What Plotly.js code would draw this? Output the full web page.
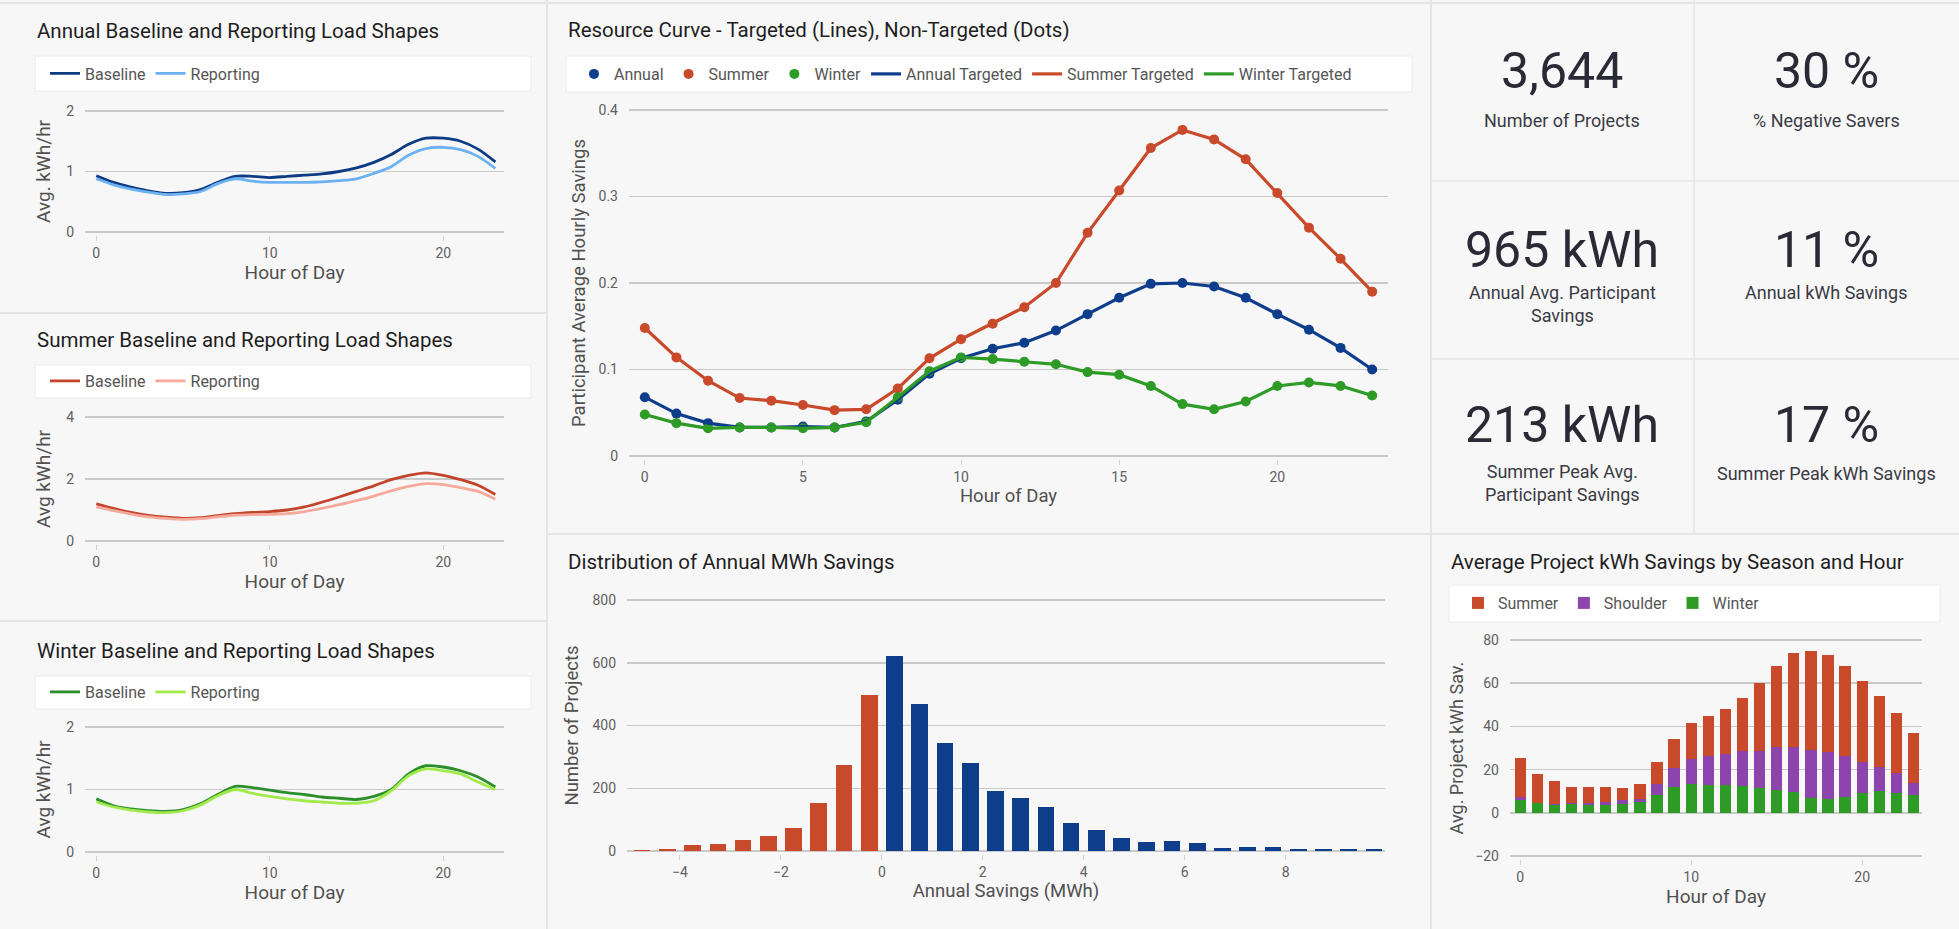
<!DOCTYPE html>
<html>
<head>
<meta charset="utf-8">
<script src="https://cdn.plot.ly/plotly-3.0.1.min.js"></script>
<style>
  html, body { margin: 0; padding: 0; background: #f7f7f7; }
  #chart { width: 1959px; height: 929px; }
</style>
</head>
<body>
<div id="chart"></div>
<script>
// ---------------- DATA ----------------
const hours = [0,1,2,3,4,5,6,7,8,9,10,11,12,13,14,15,16,17,18,19,20,21,22,23];

const annualBaseline  = [0.93,0.82,0.74,0.68,0.64,0.65,0.70,0.82,0.92,0.92,0.90,0.92,0.94,0.96,1.00,1.06,1.15,1.28,1.45,1.55,1.55,1.50,1.37,1.16];
const annualReporting = [0.88,0.78,0.71,0.66,0.62,0.63,0.67,0.80,0.88,0.84,0.82,0.82,0.82,0.83,0.85,0.88,0.97,1.08,1.27,1.38,1.40,1.36,1.25,1.05];

const summerBaseline  = [1.20,1.05,0.92,0.83,0.77,0.73,0.75,0.82,0.88,0.92,0.95,1.00,1.10,1.25,1.42,1.60,1.78,1.98,2.12,2.20,2.12,1.98,1.80,1.50];
const summerReporting = [1.10,0.98,0.87,0.78,0.73,0.70,0.72,0.78,0.83,0.85,0.86,0.88,0.95,1.05,1.17,1.30,1.45,1.62,1.76,1.85,1.82,1.72,1.60,1.35];

const winterBaseline  = [0.85,0.74,0.69,0.66,0.65,0.68,0.77,0.92,1.05,1.03,0.99,0.95,0.92,0.88,0.86,0.84,0.89,1.00,1.25,1.38,1.36,1.30,1.20,1.04];
const winterReporting = [0.80,0.72,0.67,0.64,0.63,0.66,0.75,0.90,1.00,0.94,0.89,0.85,0.82,0.80,0.78,0.78,0.82,0.98,1.22,1.33,1.30,1.25,1.12,1.00];

// Resource curve: non-targeted (dots) and targeted (lines)
const rcAnnual   = [0.068,0.049,0.038,0.033,0.033,0.034,0.033,0.040,0.065,0.095,0.113,0.124,0.131,0.145,0.164,0.183,0.199,0.200,0.196,0.183,0.164,0.146,0.125,0.100];
const rcSummer   = [0.148,0.114,0.087,0.067,0.064,0.059,0.053,0.054,0.078,0.113,0.135,0.153,0.172,0.200,0.258,0.307,0.356,0.377,0.366,0.343,0.304,0.264,0.228,0.190];
const rcWinter   = [0.048,0.038,0.032,0.033,0.033,0.032,0.033,0.039,0.068,0.098,0.114,0.112,0.109,0.106,0.097,0.094,0.081,0.060,0.054,0.063,0.081,0.085,0.081,0.070];
const rcAnnualTargeted = [0.068,0.049,0.038,0.033,0.033,0.034,0.033,0.040,0.065,0.095,0.113,0.124,0.131,0.145,0.164,0.183,0.199,0.200,0.196,0.183,0.164,0.146,0.125,0.100];
const rcSummerTargeted = [0.148,0.114,0.087,0.067,0.064,0.059,0.053,0.054,0.078,0.113,0.135,0.153,0.172,0.200,0.258,0.307,0.356,0.377,0.366,0.343,0.304,0.264,0.228,0.190];
const rcWinterTargeted = [0.048,0.038,0.032,0.033,0.033,0.032,0.033,0.039,0.068,0.098,0.114,0.112,0.109,0.106,0.097,0.094,0.081,0.060,0.054,0.063,0.081,0.085,0.081,0.070];

// Distribution of annual MWh savings (bin centres, counts)
const negBins   = [-4.75,-4.25,-3.75,-3.25,-2.75,-2.25,-1.75,-1.25,-0.75,-0.25];
const negCounts = [3,6,18,21,34,49,73,152,275,496];
const posBins   = [0.25,0.75,1.25,1.75,2.25,2.75,3.25,3.75,4.25,4.75,5.25,5.75,6.25,6.75,7.25,7.75,8.25,8.75,9.25,9.75];
const posCounts = [620,469,345,281,192,169,141,88,68,43,30,31,24,9,14,14,5,5,5,6];

// Average project kWh savings by season and hour
const seasonWinter   = [6.0,4.4,3.8,4.0,3.8,3.8,4.0,4.8,8.2,11.8,13.4,13.0,13.0,12.4,11.5,10.7,9.6,6.9,6.4,7.4,9.4,10.2,9.4,8.3];
const seasonShoulder = [1.5,0.3,0.5,0.4,0.6,1.0,1.8,1.7,5.3,8.8,11.3,13.3,14.0,16.2,17.1,19.8,20.9,22.2,21.9,18.9,14.0,11.2,9.2,5.5];
const seasonSummer   = [18.0,13.4,10.2,7.6,7.6,7.2,5.7,7.0,9.9,13.8,16.8,18.5,21.0,24.5,31.6,37.4,43.4,45.7,44.8,41.6,37.6,32.5,27.6,23.3];

// KPI tiles
const kpiValues = ["3,644", "30 %", "965 kWh", "11 %", "213 kWh", "17 %"];
const kpiLabels = ["Number of Projects", "% Negative Savers", "Annual Avg. Participant<br>Savings", "Annual kWh Savings", "Summer Peak Avg.<br>Participant Savings", "Summer Peak kWh Savings"];

// Panel titles
const panelTitles = [
  "Annual Baseline and Reporting Load Shapes",
  "Summer Baseline and Reporting Load Shapes",
  "Winter Baseline and Reporting Load Shapes",
  "Resource Curve - Targeted (Lines), Non-Targeted (Dots)",
  "Distribution of Annual MWh Savings",
  "Average Project kWh Savings by Season and Hour"
];

// ---------------- LAYOUT HELPERS ----------------
const W = 1959, H = 929;
const px = v => v / W;
const py = v => 1 - v / H;

const FONT = "Roboto, 'Noto Sans', sans-serif";
const C = {
  annB: "#0d3b84", annR: "#6cb2f2",
  sumB: "#c2452b", sumR: "#f5aa9c",
  winB: "#2a8f2a", winR: "#a2ea4c",
  blue: "#0e3d8c", orange: "#c9492b", green: "#2e9b27", purple: "#8e44ad",
  grid: "#c9c9c9", tick: "#606060", title: "#1e1e1e", axisTitle: "#505050"
};

function xAxisDef(x0, x1, range, dtick, anchor, title, tsize) {
  return {
    domain: [px(x0), px(x1)], range: range, dtick: dtick, anchor: anchor,
    showgrid: false, zeroline: false, showline: false,
    ticks: "outside", ticklen: 5, tickcolor: "#d0d0d0",
    tickfont: {family: FONT, size: 14, color: C.tick},
    title: {text: title, font: {family: FONT, size: tsize, color: C.axisTitle}, standoff: 4},
    fixedrange: true
  };
}
// y axis: top/bottom pixel positions of the range ends; pad a few px so edge gridlines are drawn
function yAxisDef(topPx, botPx, range, dtick, anchor, title, standoff, tsize) {
  const pad = 3;
  const upp = (range[1] - range[0]) / (botPx - topPx);
  return {
    domain: [py(botPx + pad), py(topPx - pad)],
    range: [range[0] - pad * upp, range[1] + pad * upp],
    tick0: 0, dtick: dtick, anchor: anchor,
    showgrid: true, gridcolor: C.grid, gridwidth: 1.5,
    zeroline: false, showline: false, ticks: "",
    ticklabelstandoff: 10,
    tickfont: {family: FONT, size: 14, color: C.tick},
    title: {text: title, font: {family: FONT, size: tsize, color: C.axisTitle}, standoff: standoff},
    fixedrange: true
  };
}
function legendDef(xLeft, yCenter) {
  return {
    orientation: "h", x: px(xLeft), y: py(yCenter), xanchor: "left", yanchor: "middle",
    bgcolor: "rgba(0,0,0,0)", borderwidth: 0, traceorder: "normal",
    font: {family: FONT, size: 16, color: "#555"},
    itemwidth: 30, tracegroupgap: 0, itemclick: false, itemdoubleclick: false
  };
}

// ---------------- TRACES ----------------
const traces = [];
function loadLine(y, name, color, xa, ya, lg) {
  traces.push({x: hours, y: y, name: name, type: "scatter", mode: "lines",
    line: {color: color, width: 2.8, shape: "spline", smoothing: 0.8},
    xaxis: xa, yaxis: ya, legend: lg});
}
loadLine(annualBaseline, "Baseline", C.annB, "x", "y", "legend");
loadLine(annualReporting, "Reporting", C.annR, "x", "y", "legend");
loadLine(summerBaseline, "Baseline", C.sumB, "x2", "y2", "legend2");
loadLine(summerReporting, "Reporting", C.sumR, "x2", "y2", "legend2");
loadLine(winterBaseline, "Baseline", C.winB, "x3", "y3", "legend3");
loadLine(winterReporting, "Reporting", C.winR, "x3", "y3", "legend3");

function rcDots(y, name, color) {
  traces.push({x: hours, y: y, name: name, type: "scatter", mode: "markers",
    marker: {color: color, size: 10}, xaxis: "x4", yaxis: "y4", legend: "legend4"});
}
function rcLine(y, name, color) {
  traces.push({x: hours, y: y, name: name, type: "scatter", mode: "lines",
    line: {color: color, width: 3.2}, xaxis: "x4", yaxis: "y4", legend: "legend4"});
}
rcDots(rcAnnual, "Annual", C.blue);
rcDots(rcSummer, "Summer", C.orange);
rcDots(rcWinter, "Winter", C.green);
rcLine(rcAnnualTargeted, "Annual Targeted", C.blue);
rcLine(rcSummerTargeted, "Summer Targeted", C.orange);
rcLine(rcWinterTargeted, "Winter Targeted", C.green);

traces.push({x: negBins, y: negCounts, type: "bar", name: "Negative", marker: {color: C.orange},
  xaxis: "x5", yaxis: "y5", showlegend: false});
traces.push({x: posBins, y: posCounts, type: "bar", name: "Positive", marker: {color: C.blue},
  xaxis: "x5", yaxis: "y5", showlegend: false});

traces.push({x: hours, y: seasonWinter, type: "bar", name: "Winter", marker: {color: C.green},
  xaxis: "x6", yaxis: "y6", legend: "legend5", legendrank: 3});
traces.push({x: hours, y: seasonShoulder, type: "bar", name: "Shoulder", marker: {color: C.purple},
  xaxis: "x6", yaxis: "y6", legend: "legend5", legendrank: 2});
traces.push({x: hours, y: seasonSummer, type: "bar", name: "Summer", marker: {color: C.orange},
  xaxis: "x6", yaxis: "y6", legend: "legend5", legendrank: 1});

// ---------------- SHAPES / ANNOTATIONS ----------------
const shapes = [];
const annotations = [];
function line(x0, y0, x1, y1, color, w) {
  shapes.push({type: "line", xref: "paper", yref: "paper", x0: px(x0), y0: py(y0), x1: px(x1), y1: py(y1),
    line: {color: color, width: w}, layer: "below"});
}
function rect(x0, y0, x1, y1, fill, border) {
  shapes.push({type: "rect", xref: "paper", yref: "paper", x0: px(x0), y0: py(y0), x1: px(x1), y1: py(y1),
    fillcolor: fill, line: {color: border, width: 1}, layer: "below"});
}
// panel dividers
line(0, 3, W, 3, "#e4e4e4", 2);
line(547, 0, 547, H, "#e4e4e4", 2);
line(1431, 0, 1431, H, "#e4e4e4", 2);
line(0, 313, 547, 313, "#e4e4e4", 2);
line(0, 621, 547, 621, "#e4e4e4", 2);
line(547, 534, 1431, 534, "#e4e4e4", 2);
line(1431, 534, W, 534, "#e4e4e4", 2);
line(1694, 0, 1694, 534, "#e4e4e4", 1.5);
line(1431, 181, W, 181, "#e4e4e4", 1.5);
line(1431, 359, W, 359, "#e4e4e4", 1.5);

// legend boxes
rect(35, 56, 531, 91, "#ffffff", "#ececec");
rect(35, 365, 531, 398, "#ffffff", "#ececec");
rect(35, 676, 531, 709, "#ffffff", "#ececec");
rect(566, 56, 1412, 92, "#ffffff", "#ececec");
rect(1449, 585, 1940, 622, "#ffffff", "#ececec");

// panel titles
const titlePos = [[35, 31], [35, 340], [35, 651], [566, 30], [566, 562], [1449, 562]];
panelTitles.forEach((t, i) => {
  annotations.push({text: t, xref: "paper", yref: "paper", x: px(titlePos[i][0]), y: py(titlePos[i][1]),
    xanchor: "left", yanchor: "middle", showarrow: false,
    font: {family: FONT, size: 20.5, color: C.title}});
});

// KPI tiles
const kpiCenters = [[1562, 71, 119], [1826, 71, 119], [1562, 250, 291], [1826, 250, 291], [1562, 425, 470], [1826, 425, 472]];
kpiValues.forEach((v, i) => {
  const c = kpiCenters[i];
  annotations.push({text: v, xref: "paper", yref: "paper", x: px(c[0]), y: py(c[1]),
    xanchor: "center", yanchor: "middle", showarrow: false,
    font: {family: FONT, size: 50, color: "#2a2a36"}});
  annotations.push({text: kpiLabels[i], xref: "paper", yref: "paper", x: px(c[0]), y: py(c[2] - 11),
    xanchor: "center", yanchor: "top", showarrow: false, align: "center",
    font: {family: FONT, size: 18, color: "#3a3a44"}});
});

// ---------------- LAYOUT ----------------
const layout = {
  width: W, height: H,
  margin: {l: 0, r: 0, t: 0, b: 0},
  paper_bgcolor: "#f7f7f7", plot_bgcolor: "rgba(0,0,0,0)",
  font: {family: FONT, color: "#444"},
  barmode: "stack", bargap: 0.34,
  hovermode: false,

  xaxis:  xAxisDef(85, 504, [-0.65, 23.5], 10, "y", "Hour of Day", 19),
  yaxis:  yAxisDef(111, 232, [0, 2], 1, "x", "Avg. kWh/hr", 10, 19),
  xaxis2: xAxisDef(85, 504, [-0.65, 23.5], 10, "y2", "Hour of Day", 19),
  yaxis2: yAxisDef(417, 541, [0, 4], 2, "x2", "Avg kWh/hr", 10, 19),
  xaxis3: xAxisDef(85, 504, [-0.65, 23.5], 10, "y3", "Hour of Day", 19),
  yaxis3: yAxisDef(727, 852, [0, 2], 1, "x3", "Avg kWh/hr", 10, 19),
  xaxis4: xAxisDef(629, 1388, [-0.5, 23.5], 5, "y4", "Hour of Day", 18.5),
  yaxis4: yAxisDef(110, 456, [0, 0.4], 0.1, "x4", "Participant Average Hourly Savings", 8, 18.5),
  xaxis5: xAxisDef(627, 1385, [-5.05, 9.97], 2, "y5", "Annual Savings (MWh)", 18.5),
  yaxis5: yAxisDef(600, 851, [0, 800], 200, "x5", "Number of Projects", 8, 18.5),
  xaxis6: xAxisDef(1510, 1922, [-0.6, 23.5], 10, "y6", "Hour of Day", 19),
  yaxis6: yAxisDef(640, 856, [-20, 80], 20, "x6", "Avg. Project kWh Sav.", 6, 18),

  legend:  legendDef(45, 73.5),
  legend2: legendDef(45, 381),
  legend3: legendDef(45, 692),
  legend4: legendDef(574, 74),
  legend5: legendDef(1458, 603),

  shapes: shapes,
  annotations: annotations
};

Plotly.newPlot("chart", traces, layout, {staticPlot: true, displayModeBar: false});
</script>
</body>
</html>
